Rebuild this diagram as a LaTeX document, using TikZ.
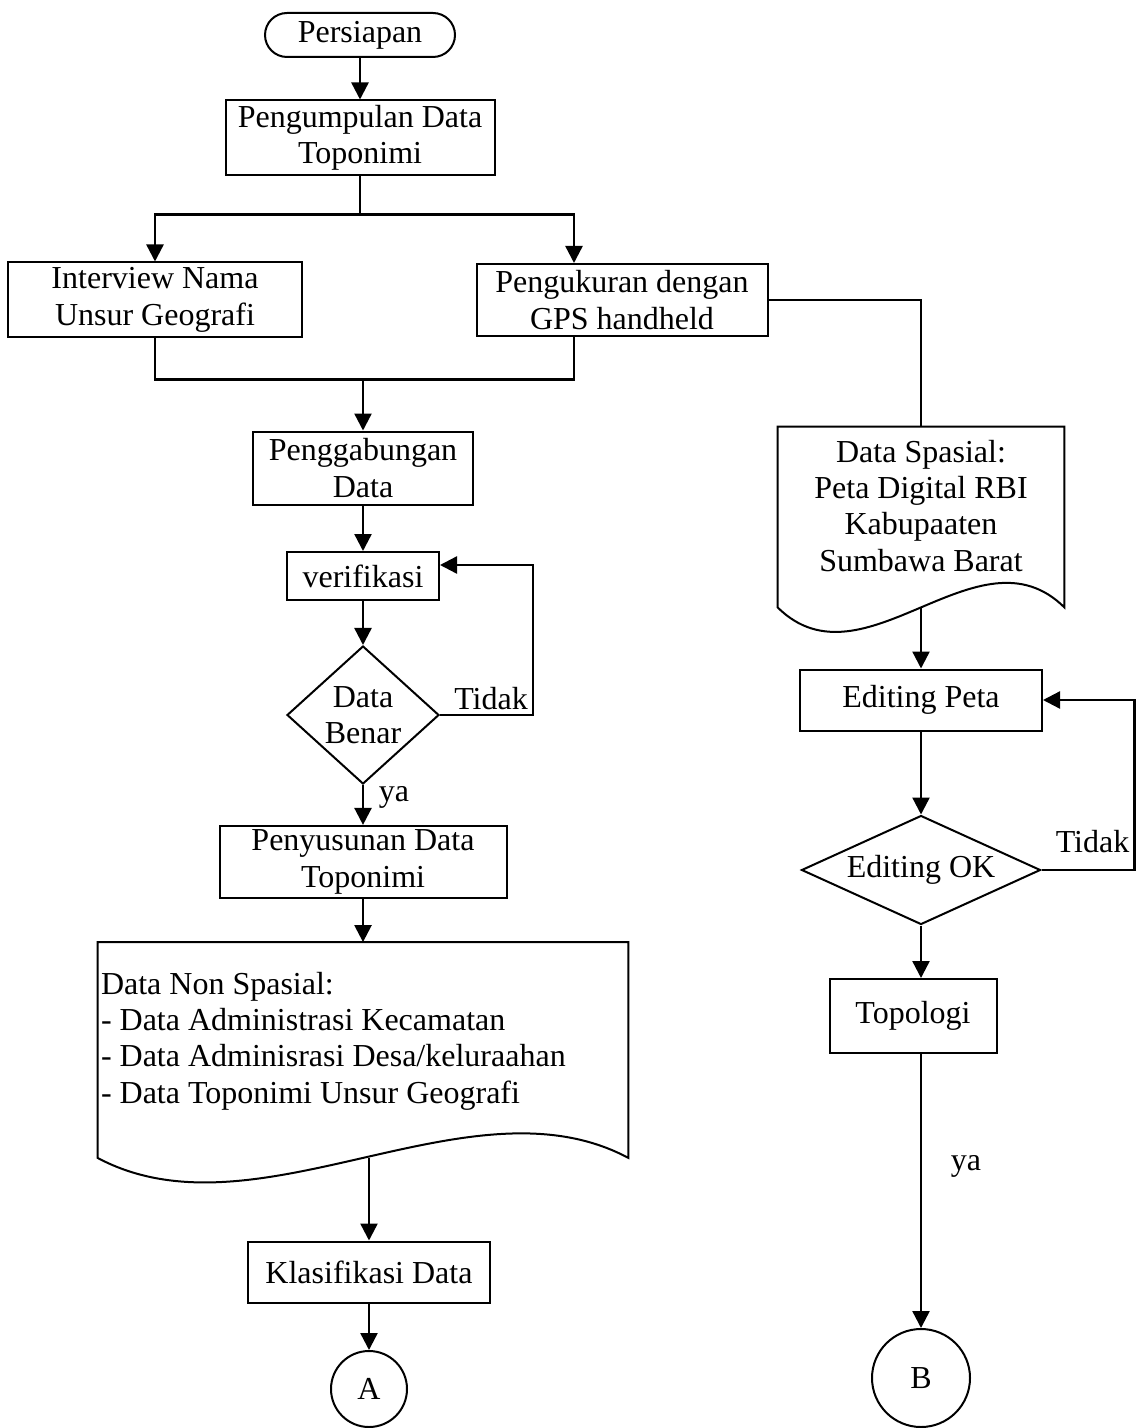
\documentclass[tikz,border=0pt]{standalone}
\usepackage{fontspec}
\setmainfont{Liberation Serif}
\usetikzlibrary{shapes.geometric, arrows.meta, calc}

\tikzstyle{startstop} = [rectangle, rounded corners=11pt, minimum width=95pt, minimum height=22pt, text centered, draw=black, line width=1pt]
\tikzstyle{process} = [rectangle, text centered, align=center, inner ysep=2pt, draw=black, line width=1pt]
\tikzstyle{decision} = [diamond, text centered, align=center, inner sep=1pt, draw=black, line width=1pt]
\tikzstyle{datadoc} = [rectangle, inner sep=1.5pt]
\tikzstyle{connector} = [circle, draw=black, line width=1pt]
\tikzstyle{arrow} = [line width=1.2pt, -{Triangle[length=8.5pt,width=8.5pt]}]
\tikzstyle{flowline} = [line width=1.2pt]

% outline of a document symbol round a datadoc node
\newcommand{\docoutline}[1]{%
\draw [line width=1pt] (#1.south west) -- (#1.north west) -- (#1.north east) -- (#1.south east)
  .. controls ($(#1.south west)!0.7!(#1.south east)+(0,-85)$) and ($(#1.south west)!0.3!(#1.south east)+(0,85)$) .. (#1.south west) -- cycle;}

\begin{document}
\begin{tikzpicture}[node distance=50pt, x=0.5pt, y=-0.5pt, font=\fontsize{16}{18.2}\selectfont]
\useasboundingbox (0,0) rectangle (1143,1428);

\node (start) [startstop] at (360,35) {Persiapan};

\node (kumpul) [process, below of=start, yshift=-1.5pt, minimum width=134.5pt, minimum height=37.5pt] {Pengumpulan Data\\Toponimi};

\node (interview) [process, below of=kumpul, xshift=-102.5pt, yshift=-31pt, minimum width=147pt, minimum height=37.5pt] {Interview Nama\\Unsur Geografi};
\node (gps) [process, below of=kumpul, xshift=131pt, yshift=-31pt, minimum width=145.5pt, minimum height=36pt] {Pengukuran dengan\\GPS handheld};

\node (gabung) [process, below of=kumpul, xshift=1.5pt, yshift=-115pt, minimum width=110pt, minimum height=36.5pt] {Penggabungan\\Data};
\node (verifikasi) [process, below of=gabung, yshift=-4pt, minimum width=76pt, minimum height=24pt] {verifikasi};
\node (benar) [decision, below of=verifikasi, yshift=-19.5pt, minimum width=76pt, minimum height=69pt, aspect=1.1] {Data\\Benar};
\node (susun) [process, below of=benar, yshift=-23.5pt, minimum width=143.5pt, minimum height=34.5pt] {Penyusunan Data\\Toponimi};

\node (nonspasial) [datadoc, below of=susun, yshift=-44pt, align=flush left, text width=262pt, text depth=67pt, minimum height=107.5pt] {Data Non Spasial:\\- Data Administrasi Kecamatan\\- Data Adminisrasi Desa/keluraahan\\- Data Toponimi Unsur Geografi};

\node (klasifikasi) [process, below of=nonspasial, xshift=3pt, yshift=-61pt, minimum width=121pt, minimum height=30.5pt] {Klasifikasi Data};
\node (conA) [connector, below of=klasifikasi, yshift=-8.5pt, minimum size=38pt] {A};

\node (spasial) [datadoc, below of=gps, xshift=149.5pt, yshift=-58.5pt, align=flush center, text width=140pt, text depth=66pt, minimum height=90pt] {Data Spasial:\\Peta Digital RBI\\Kabupaaten\\Sumbawa Barat};
\node (edit) [process, below of=spasial, yshift=-41.5pt, minimum width=121pt, minimum height=30.5pt] {Editing Peta};
\node (ok) [decision, below of=edit, yshift=-35pt, minimum width=119.5pt, minimum height=54.5pt, aspect=2.19] {Editing OK};
\node (topologi) [process, below of=ok, xshift=-4pt, yshift=-23pt, minimum width=83.5pt, minimum height=37pt] {Topologi};
\node (conB) [connector, below of=topologi, xshift=4pt, yshift=-131pt, minimum size=49pt] {B};

\docoutline{nonspasial}
\docoutline{spasial}

\coordinate (split) at ([yshift=-19pt]kumpul.south);
\coordinate (merge) at ([yshift=25.5pt]gabung.north);

\draw [arrow] (start) -- (kumpul);
\draw [flowline] (kumpul.south) -- (split);
\draw [arrow] (split) -| (interview.north);
\draw [arrow] (split) -| ([xshift=-24pt]gps.north);
\draw [flowline] (interview.south) |- (merge) -| ([xshift=-24pt]gps.south);
\draw [arrow] (merge) -- (gabung);
\draw [flowline] (gps.east) -| (spasial.north);

\draw [arrow] (gabung) -- (verifikasi);
\draw [arrow] (verifikasi) -- (benar);
\draw [arrow] (benar.east) -- ++(93,0) node[above left, inner sep=2pt] {Tidak} |- ([yshift=5.5pt]verifikasi.east);
\draw [arrow] (benar) -- node[right, pos=0.3, xshift=4pt] {ya} (susun);
\draw [arrow] (susun) -- (nonspasial);
\draw [arrow] (nonspasial.south -| klasifikasi.north) -- (klasifikasi.north);
\draw [arrow] (klasifikasi) -- (conA);

\draw [arrow] (spasial.south) -- (edit);
\draw [arrow] (edit) -- (ok);
\draw [arrow] (ok.east) -- ++(93,0) node[above left, inner sep=2pt, yshift=6pt] {Tidak} |- (edit.east);
\draw [arrow] (ok.south) -- (ok.south |- topologi.north);
\draw [arrow] (ok.south |- topologi.south) -- node[right, pos=0.41, xshift=11pt] {ya} (conB);

\end{tikzpicture}
\end{document}
